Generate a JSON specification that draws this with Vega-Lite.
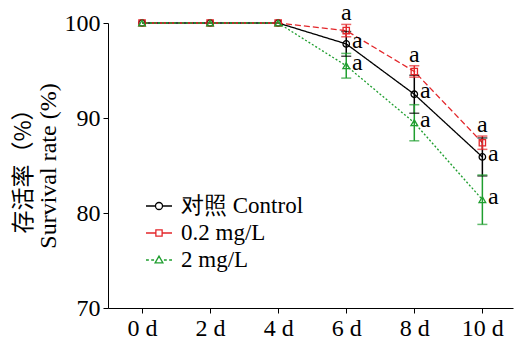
{
  "$schema": "https://vega.github.io/schema/vega-lite/v6.json",
  "width": 405,
  "height": 285,
  "autosize": {"type": "none"},
  "padding": {"left": 108, "top": 23, "right": 1, "bottom": 39},
  "background": "white",
  "title": {
    "text": "存活率（%）",
    "orient": "left",
    "anchor": "middle",
    "font": "Noto Sans CJK SC",
    "fontSize": 23,
    "fontWeight": "normal",
    "color": "#000000",
    "offset": 0
  },
  "data": {
    "values": [
      {"day": 0, "group": "对照 Control", "mean": 100, "lo": null, "hi": null, "sig": null},
      {"day": 2, "group": "对照 Control", "mean": 100, "lo": null, "hi": null, "sig": null},
      {"day": 4, "group": "对照 Control", "mean": 100, "lo": null, "hi": null, "sig": null},
      {"day": 6, "group": "对照 Control", "mean": 97.8, "lo": 96.5, "hi": 99.1, "sig": "a"},
      {"day": 8, "group": "对照 Control", "mean": 92.5, "lo": 90.5, "hi": 94.5, "sig": "a"},
      {"day": 10, "group": "对照 Control", "mean": 85.9, "lo": 83.9, "hi": 87.9, "sig": "a"},
      {"day": 0, "group": "0.2 mg/L", "mean": 100, "lo": null, "hi": null, "sig": null},
      {"day": 2, "group": "0.2 mg/L", "mean": 100, "lo": null, "hi": null, "sig": null},
      {"day": 4, "group": "0.2 mg/L", "mean": 100, "lo": null, "hi": null, "sig": null},
      {"day": 6, "group": "0.2 mg/L", "mean": 99.2, "lo": 98.55, "hi": 99.85, "sig": "a"},
      {"day": 8, "group": "0.2 mg/L", "mean": 94.9, "lo": 94.3, "hi": 95.5, "sig": "a"},
      {"day": 10, "group": "0.2 mg/L", "mean": 87.4, "lo": 86.7, "hi": 88.1, "sig": "a"},
      {"day": 0, "group": "2 mg/L", "mean": 100, "lo": null, "hi": null, "sig": null},
      {"day": 2, "group": "2 mg/L", "mean": 100, "lo": null, "hi": null, "sig": null},
      {"day": 4, "group": "2 mg/L", "mean": 100, "lo": null, "hi": null, "sig": null},
      {"day": 6, "group": "2 mg/L", "mean": 95.5, "lo": 94.2, "hi": 96.8, "sig": "a"},
      {"day": 8, "group": "2 mg/L", "mean": 89.5, "lo": 87.6, "hi": 91.4, "sig": "a"},
      {"day": 10, "group": "2 mg/L", "mean": 81.4, "lo": 78.8, "hi": 84.0, "sig": "a"}
    ]
  },
  "encoding": {
    "x": {
      "field": "day", "type": "quantitative",
      "scale": {"domain": [-1, 10.9], "nice": false, "zero": false},
      "axis": {
        "values": [0, 2, 4, 6, 8, 10],
        "labelExpr": "datum.value + ' d'",
        "title": null,
        "tickSize": 5,
        "labelPadding": 3
      }
    }
  },
  "layer": [
    {
      "mark": {"type": "line", "strokeWidth": 1.3},
      "encoding": {
        "y": {
          "field": "mean", "type": "quantitative",
          "scale": {"domain": [70, 100], "nice": false, "zero": false},
          "axis": {
            "values": [70, 80, 90, 100],
            "title": "Survival rate (%)",
            "titleFont": "Liberation Serif",
            "tickSize": 5,
            "labelPadding": 3,
            "titlePadding": 4
          }
        },
        "stroke": {
          "field": "group", "type": "nominal",
          "scale": {"domain": ["2 mg/L", "0.2 mg/L", "对照 Control"], "range": ["#1f9e2f", "#e3262a", "#000000"]},
          "legend": null
        },
        "strokeDash": {
          "field": "group", "type": "nominal",
          "scale": {"domain": ["0.2 mg/L", "对照 Control", "2 mg/L"], "range": [[6, 3], [1, 0], [2, 2]]},
          "legend": null
        }
      }
    },
    {
      "transform": [{"filter": "datum.lo != null"}],
      "mark": {"type": "rule", "strokeWidth": 1.5},
      "encoding": {
        "y": {"field": "lo", "type": "quantitative"},
        "y2": {"field": "hi"},
        "stroke": {"field": "group", "type": "nominal", "legend": null}
      }
    },
    {
      "transform": [{"filter": "datum.lo != null"}],
      "mark": {"type": "tick", "orient": "horizontal", "size": 10, "thickness": 1.5},
      "encoding": {
        "y": {"field": "lo", "type": "quantitative"},
        "fill": {
          "field": "group", "type": "nominal",
          "scale": {"domain": ["2 mg/L", "对照 Control", "0.2 mg/L"], "range": ["#1f9e2f", "#000000", "#e3262a"]},
          "legend": null
        }
      }
    },
    {
      "transform": [{"filter": "datum.lo != null"}],
      "mark": {"type": "tick", "orient": "horizontal", "size": 10, "thickness": 1.5},
      "encoding": {
        "y": {"field": "hi", "type": "quantitative"},
        "fill": {"field": "group", "type": "nominal", "legend": null}
      }
    },
    {
      "transform": [{"filter": "datum.group === '对照 Control'"}],
      "mark": {"type": "point", "shape": "circle", "filled": false, "size": 42, "strokeWidth": 1.3, "opacity": 1},
      "encoding": {
        "y": {"field": "mean", "type": "quantitative"},
        "stroke": {"field": "group", "type": "nominal", "legend": null}
      }
    },
    {
      "transform": [{"filter": "datum.group === '0.2 mg/L'"}],
      "mark": {"type": "point", "shape": "square", "filled": false, "size": 40, "strokeWidth": 1.3, "opacity": 1},
      "encoding": {
        "y": {"field": "mean", "type": "quantitative"},
        "stroke": {"field": "group", "type": "nominal", "legend": null}
      }
    },
    {
      "transform": [{"filter": "datum.group === '2 mg/L'"}],
      "mark": {"type": "point", "shape": "triangle-up", "filled": false, "size": 45, "strokeWidth": 1.3, "opacity": 1},
      "encoding": {
        "y": {"field": "mean", "type": "quantitative"},
        "stroke": {"field": "group", "type": "nominal", "legend": null}
      }
    },
    {
      "transform": [{"filter": "datum.day > 100"}],
      "mark": {"type": "point", "filled": false, "strokeWidth": 1.3, "opacity": 1},
      "encoding": {
        "y": {"field": "mean", "type": "quantitative"},
        "color": {
          "field": "group", "type": "nominal",
          "scale": {"domain": ["对照 Control", "0.2 mg/L", "2 mg/L"], "range": ["#000000", "#e3262a", "#1f9e2f"]},
          "legend": {
            "title": null,
            "orient": "none",
            "legendX": 37,
            "legendY": 169,
            "padding": 0,
            "rowPadding": 1,
            "labelFont": "Liberation Serif",
            "labelFontSize": 23,
            "labelColor": "#000000",
            "labelOffset": 8,
            "symbolSize": 676,
            "symbolStrokeWidth": 1.3,
            "symbolOpacity": 1
          }
        },
        "shape": {
          "field": "group", "type": "nominal",
          "scale": {
            "domain": ["对照 Control", "0.2 mg/L", "2 mg/L"],
            "range": [
              "M-1,0H-0.27M0.27,0H1M0.27,0A0.27,0.27,0,1,1,-0.27,0A0.27,0.27,0,1,1,0.27,0",
              "M-1,0H-0.24M0.24,0H1M-0.24,-0.24H0.24V0.24H-0.24Z",
              "M-1,0H-0.78M-0.6,0H-0.38M0.38,0H0.6M0.78,0H1M0,-0.3L0.3,0.22L-0.3,0.22Z"
            ]
          }
        }
      }
    },
    {
      "transform": [{"filter": "datum.sig != null && datum.group === '0.2 mg/L'"}],
      "mark": {"type": "text", "font": "Liberation Serif", "fontSize": 24, "color": "#000000", "align": "center", "baseline": "alphabetic", "dy": -4},
      "encoding": {
        "y": {"field": "hi", "type": "quantitative"},
        "text": {"field": "sig"}
      }
    },
    {
      "transform": [{"filter": "datum.sig != null && datum.group !== '0.2 mg/L'"}],
      "mark": {"type": "text", "font": "Liberation Serif", "fontSize": 24, "color": "#000000", "align": "center", "baseline": "alphabetic", "dx": 11, "dy": 4},
      "encoding": {
        "y": {"field": "mean", "type": "quantitative"},
        "text": {"field": "sig"}
      }
    }
  ],
  "config": {
    "view": {"stroke": null},
    "font": "Liberation Serif",
    "axis": {
      "grid": false,
      "domainColor": "#000000",
      "domainWidth": 1,
      "tickColor": "#000000",
      "tickWidth": 1,
      "labelColor": "#000000",
      "labelFont": "Liberation Serif",
      "labelFontSize": 24,
      "titleFont": "Liberation Serif",
      "titleFontSize": 24,
      "titleFontWeight": "normal",
      "titleColor": "#000000"
    }
  }
}
